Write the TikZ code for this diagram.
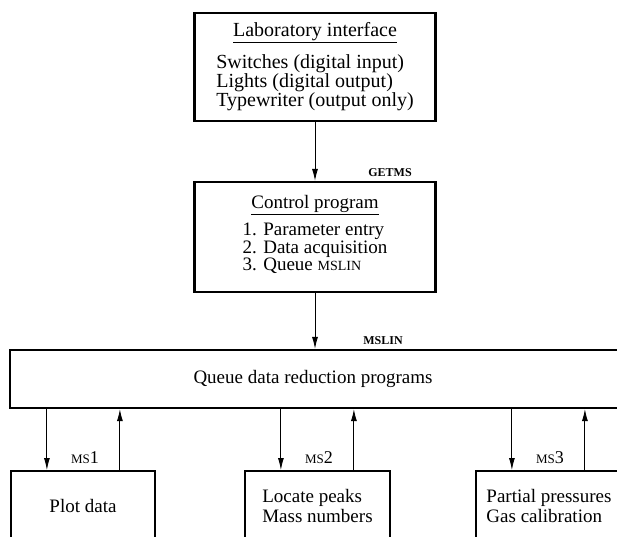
\documentclass[tikz,border=0pt]{standalone}
\usepackage{fontspec}
\setmainfont{Liberation Serif}
\usetikzlibrary{arrows.meta,positioning}

\newcommand{\lbl}[1]{{\fontsize{12}{12}\selectfont\bfseries #1}}
\newcommand{\ms}[1]{{\fontsize{13}{12}\selectfont MS}#1}

\tikzset{
  box/.style={draw, line width=2.2pt, inner sep=0pt},
  arr/.style={-{Latex[length=12pt,width=6pt]}, line width=0.9pt},
  toptxt/.style={font=\fontsize{20}{17}\selectfont, align=center},
  ctrltxt/.style={font=\fontsize{19}{16}\selectfont, align=center},
  lowtxt/.style={font=\fontsize{19}{20}\selectfont, align=left},
}

\begin{document}
\begin{tikzpicture}[x=1pt,y=-1pt]
\useasboundingbox (0,0) rectangle (617,536);
\clip (0,0) rectangle (617,536);

\node[box, toptxt, minimum width=241, minimum height=108] (lab) at (315,67)
  {\underline{Laboratory interface}\\[11pt]
   \begin{tabular}[t]{@{}l@{}}Switches (digital input)\\Lights (digital output)\\Typewriter (output only)\end{tabular}};
\node[box, ctrltxt, minimum width=241, minimum height=110] (ctrl) at (315,237)
  {\underline{Control program}\\[7pt]
   \begin{tabular}[t]{@{}l@{}}1. Parameter entry\\2. Data acquisition\\3. Queue {\fontsize{14}{14}\selectfont MSLIN}\end{tabular}\\[2pt]};
\node[box, minimum width=660, minimum height=58] (queue) at (340,379) {};
\node[font=\fontsize{19}{19}\selectfont] (qtxt) at (313,379) {Queue data reduction programs};

% reduction programs
\node[box, anchor=north, minimum width=144, minimum height=120] (plot) at (83,470) {};
\node[box, anchor=north, minimum width=145, minimum height=120] (peaks) at (317.5,470) {};
\node[box, anchor=north, minimum width=145, minimum height=120] (press) at (548.5,470) {};
\node[lowtxt] (plottxt) at (83,506) {Plot data};
\node[lowtxt] (peakstxt) at (317.5,506) {Locate peaks\\Mass numbers};
\node[lowtxt] (presstxt) at (549,506) {Partial pressures\\Gas calibration};

\draw[arr] (lab) -- (ctrl);
\draw[arr] (ctrl.south) -- (ctrl.south |- queue.north);
\node[anchor=base] (getms) at (390,176) {\lbl{GETMS}};
\node[anchor=base] (mslin) at (383,344) {\lbl{MSLIN}};

\foreach \b/\n in {plot/1, peaks/2, press/3} {
  \draw[arr] ([xshift=37pt]\b.north west |- queue.south) -- ([xshift=37pt]\b.north west);
  \draw[arr] ([xshift=110pt]\b.north west) -- ([xshift=110pt]\b.north west |- queue.south);
  \node[anchor=base, font=\fontsize{18}{18}\selectfont] (ms\n) at ([xshift=75pt,yshift=7pt]\b.north west) {\ms{\n}};
}
\end{tikzpicture}
\end{document}
